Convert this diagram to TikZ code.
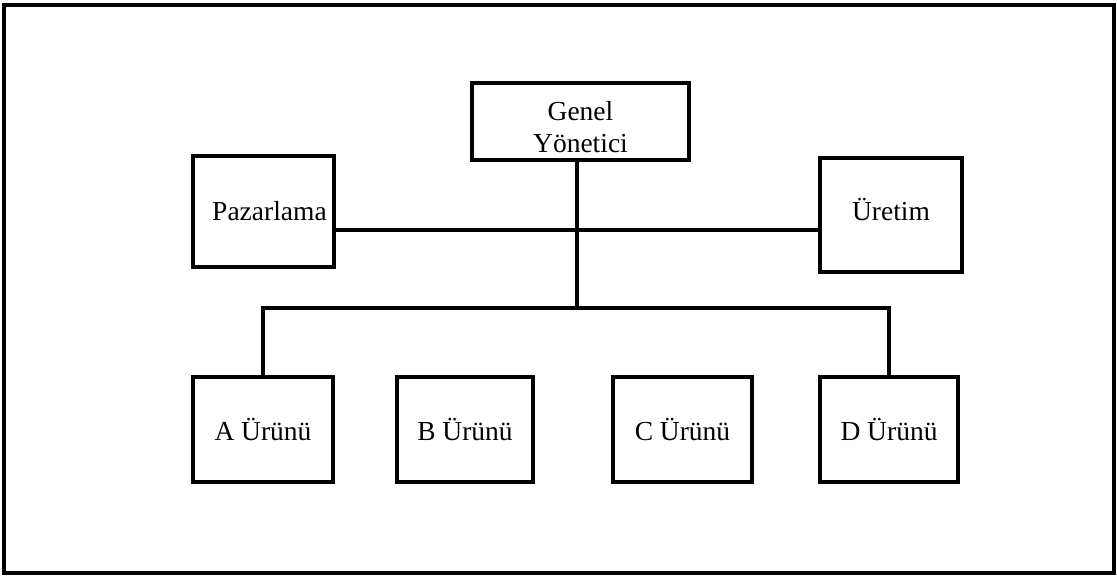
\documentclass[tikz,border=0pt]{standalone}
\usepackage{fontspec}
\setmainfont{Liberation Serif}
\begin{document}
\begin{tikzpicture}[x=1pt,y=-1pt,
  box/.style={draw, line width=4.2pt, inner sep=0pt, align=center,
    font=\fontsize{27.5}{32}\selectfont},
  conn/.style={line width=3.4pt, line join=miter}]
\useasboundingbox (0,0) rectangle (1117,576);
\draw[line width=4pt] (4,5) rectangle (1114,573);
\node[box, minimum width=217pt, minimum height=77pt] (gen) at (580.5,121.5) {\rule{0pt}{30pt}Genel\\Yönetici};
\node[box, minimum width=141pt, minimum height=111pt] (paz) at (263.5,211.5) {\hspace*{12pt}Pazarlama};
\node[box, minimum width=142pt, minimum height=114pt] (ure) at (891,215) {\raisebox{12pt}{Üretim}};
\node[box, minimum width=140pt, minimum height=105pt] (a) at (263,429.5) {A Ürünü};
\node[box, minimum width=136pt, minimum height=105pt] (b) at (465,429.5) {B Ürünü};
\node[box, minimum width=139pt, minimum height=105pt] (c) at (682.5,429.5) {C Ürünü};
\node[box, minimum width=138pt, minimum height=105pt] (d) at (889,429.5) {D Ürünü};
\coordinate (hub) at (577,230);
\coordinate (bus) at (577,308);
\draw[conn] (hub |- gen.south) -- (bus);
\draw[conn] (paz.east |- hub) -- (ure.west |- hub);
\draw[conn] (a.north) |- (bus) -| (d.north);
\end{tikzpicture}
\end{document}
